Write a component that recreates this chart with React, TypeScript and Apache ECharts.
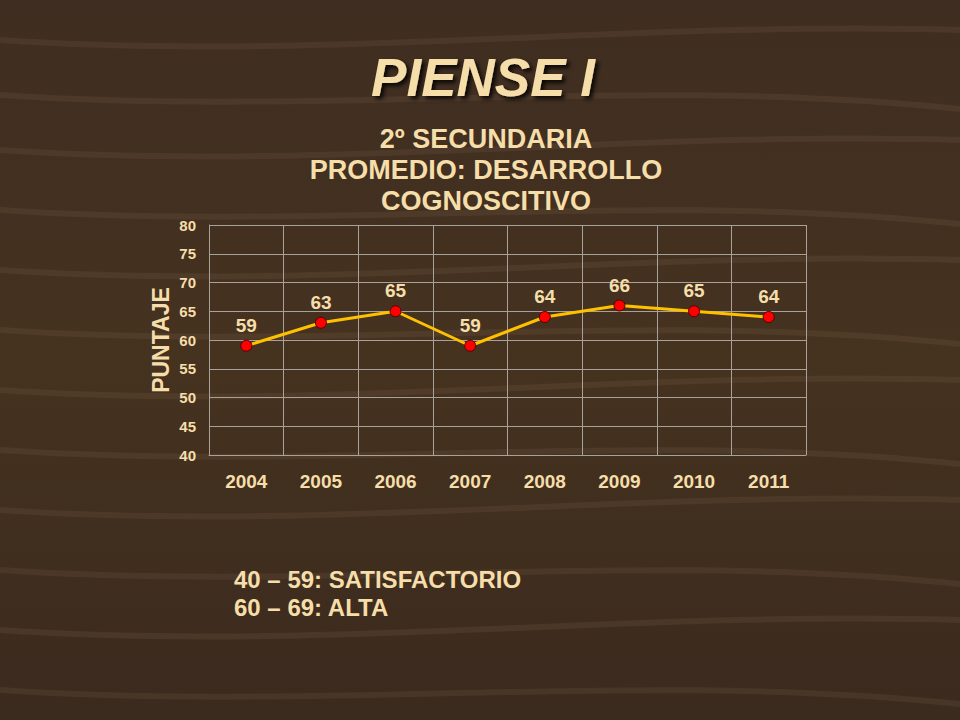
import * as echarts from 'echarts';
import { useEffect, useRef } from 'react';

const years = ['2004', '2005', '2006', '2007', '2008', '2009', '2010', '2011'];
const scores = [59, 63, 65, 59, 64, 66, 65, 64];
const subtitleLines = ['2º SECUNDARIA', 'PROMEDIO: DESARROLLO', 'COGNOSCITIVO'];
const legendLines = ['40 – 59: SATISFACTORIO', '60 – 69: ALTA'];

const cream = '#F6DEAA';
const font = '"Liberation Sans", Arial, sans-serif';

// faint wood-grain streaks for the backdrop
const grainRows = [40, 95, 150, 210, 270, 330, 390, 450, 510, 570, 630, 690];

const App = () => {
    const divRef = useRef<HTMLDivElement>(null);

    useEffect(() => {
        const chart = echarts.init(divRef.current!, null, { renderer: 'svg' });

        const grain: any[] = grainRows.map((y, i) => ({
            type: 'bezierCurve',
            silent: true,
            z: -10,
            shape: {
                x1: 0, y1: y,
                x2: 960, y2: y + (i % 2 ? 14 : -10),
                cpx1: 320, cpy1: y + 22,
                cpx2: 640, cpy2: y - 20
            },
            style: { stroke: 'rgba(200,170,130,0.09)', lineWidth: 6, fill: null }
        }));

        chart.setOption({
            animation: false,
            backgroundColor: new echarts.graphic.LinearGradient(0, 0, 0, 1, [
                { offset: 0, color: '#3f2d21' },
                { offset: 0.5, color: '#45321f' },
                { offset: 1, color: '#3b2a1e' }
            ]),
            textStyle: { fontFamily: font },
            title: [
                {
                    text: 'PIENSE I',
                    left: 478,
                    top: 46,
                    textAlign: 'center',
                    textStyle: {
                        color: cream,
                        fontSize: 53,
                        fontWeight: 'bold',
                        fontStyle: 'italic',
                        fontFamily: font,
                        textShadowColor: 'rgba(0,0,0,0.85)',
                        textShadowBlur: 4,
                        textShadowOffsetX: 3,
                        textShadowOffsetY: 3
                    }
                },
                {
                    text: subtitleLines.join('\n'),
                    left: 481,
                    top: 118,
                    textAlign: 'center',
                    textStyle: {
                        color: cream,
                        fontSize: 27,
                        fontWeight: 'bold',
                        lineHeight: 31,
                        fontFamily: font
                    }
                },
                {
                    text: legendLines.join('\n'),
                    left: 229,
                    top: 560,
                    textStyle: {
                        color: cream,
                        fontSize: 24,
                        fontWeight: 'bold',
                        lineHeight: 28,
                        fontFamily: font
                    }
                }
            ],
            graphic: grain,
            grid: { left: 209, right: 154, top: 225, bottom: 265 },
            xAxis: {
                type: 'category',
                data: years,
                boundaryGap: true,
                axisLine: { lineStyle: { color: '#a9a29a' } },
                axisTick: { show: false },
                axisLabel: {
                    color: cream,
                    fontSize: 19,
                    fontWeight: 'bold',
                    margin: 17,
                    fontFamily: font
                },
                splitLine: { show: true, lineStyle: { color: '#a9a29a', width: 1 } }
            },
            yAxis: {
                type: 'value',
                min: 40,
                max: 80,
                interval: 5,
                name: 'PUNTAJE',
                nameLocation: 'middle',
                nameGap: 37,
                nameMoveOverlap: false,
                nameTextStyle: {
                    color: cream,
                    fontSize: 23,
                    fontWeight: 'bold',
                    fontFamily: font
                },
                axisLine: { show: true, lineStyle: { color: '#a9a29a' } },
                axisTick: { show: false },
                axisLabel: {
                    color: cream,
                    fontSize: 15,
                    fontWeight: 'bold',
                    margin: 13,
                    fontFamily: font
                },
                splitLine: { lineStyle: { color: '#a9a29a', width: 1 } }
            },
            series: [
                {
                    type: 'line',
                    data: scores,
                    symbol: 'circle',
                    symbolSize: 11,
                    lineStyle: { color: '#FFC000', width: 3 },
                    itemStyle: { color: '#FF0000', borderColor: '#5a0000', borderWidth: 1 },
                    label: {
                        show: true,
                        position: 'top',
                        distance: 5,
                        color: cream,
                        fontSize: 19,
                        fontWeight: 'bold',
                        fontFamily: font
                    }
                }
            ]
        });

        return () => {
            chart.dispose();
        };
    }, []);

    return (
        <div
            ref={divRef}
            style={{ position: 'fixed', left: 0, top: 0, width: '960px', height: '720px' }}
        ></div>
    );
};

export default App;
